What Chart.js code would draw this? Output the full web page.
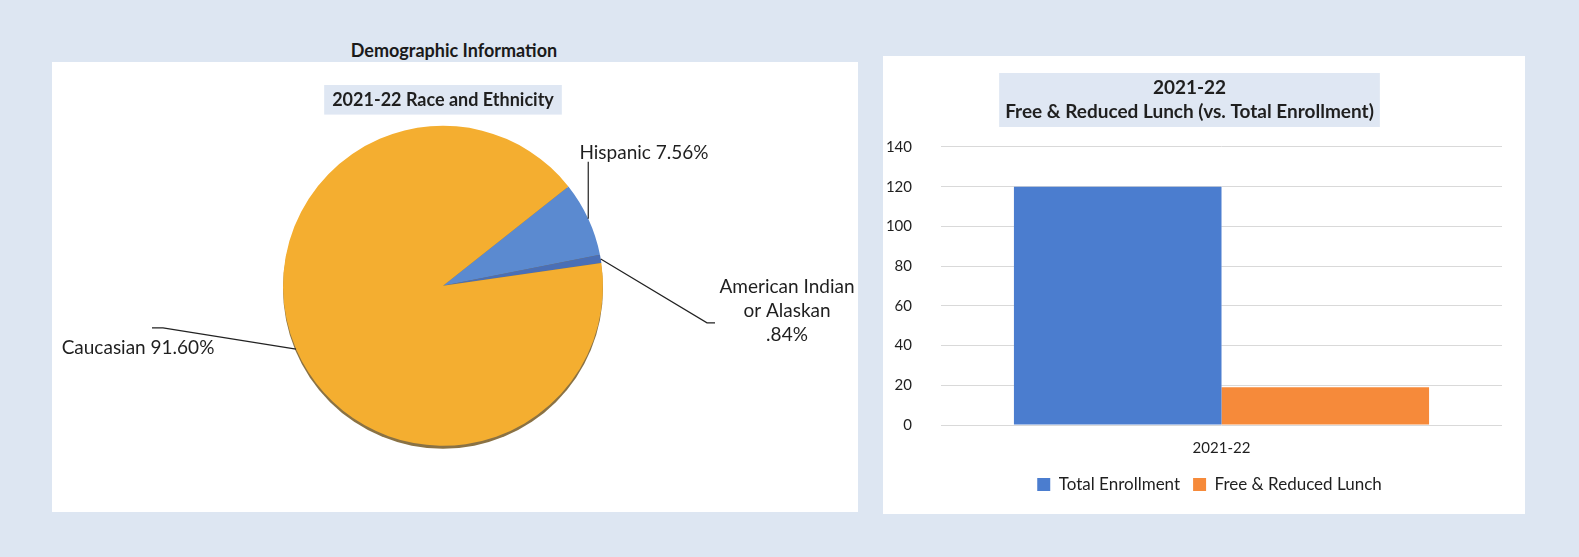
<!DOCTYPE html>
<html>
<head>
<meta charset="utf-8">
<script src="https://cdn.jsdelivr.net/npm/chart.js@4.4.0/dist/chart.umd.min.js"></script>
<style>
    body {
        margin: 0;
        width: 1579px;
        height: 557px;
        background: #dde6f2;
        font-family: Lato, sans-serif;
        position: relative;
        overflow: hidden;
    }
    .panel {
        position: absolute;
        background: #ffffff;
    }
    #pieBox { left: 52px; top: 62px; width: 806px; height: 450px; }
    #barBox { left: 883px; top: 56px; width: 642px; height: 458px; }
    #topTitle {
        position: absolute;
        left: 334px;
        width: 240px;
        top: 39px;
        text-align: center;
        font-weight: bold;
        font-size: 18px;
        line-height: 22px;
        color: #1a1a1a;
    }
</style>
</head>
<body>
<div id="topTitle">Demographic Information</div>
<div class="panel" id="pieBox"><canvas id="raceChart" width="806" height="450"></canvas></div>
<div class="panel" id="barBox"><canvas id="lunchChart" width="642" height="458"></canvas></div>

<script>
    // Race and ethnicity (percent)
    const raceLabels = ["Hispanic", "American Indian or Alaskan", "Caucasian"];
    const racePercents = [7.56, 0.84, 91.60];
    const raceLabelLines = [["Hispanic 7.56%"], ["American Indian", "or Alaskan", ".84%"], ["Caucasian 91.60%"]];
    const raceColors = ["#5b8ad0", "#4a6fb6", "#f4ae30"];

    // Free & reduced lunch vs total enrollment
    const lunchCategories = ["2021-22"];
    const totalEnrollment = [120];
    const freeReducedLunch = [19];
    const yMax = 140;
    const yStep = 20;

    const TEXT = "#1f1f1f";
    Chart.defaults.font.family = "Lato, sans-serif";
    Chart.defaults.color = TEXT;

    // light blue box behind the chart title, plus small sideways nudges
    const titleBox = {
        id: "titleBox",
        afterLayout(chart, args, opts) {
            const tb = chart.titleBlock;
            if (tb && opts.shiftX) {
                tb.left += opts.shiftX;
                tb.right += opts.shiftX;
            }
            const lg = chart.legend;
            if (lg && opts.legendShiftX) {
                lg.left += opts.legendShiftX;
                lg.right += opts.legendShiftX;
            }
        },
        beforeDraw(chart, args, opts) {
            const tb = chart.titleBlock;
            if (!tb || !opts.color) return;
            const t = chart.options.plugins.title;
            const lines = Array.isArray(t.text) ? t.text : [t.text];
            const ctx = chart.ctx;
            ctx.save();
            ctx.font = `bold ${t.font.size}px ${Chart.defaults.font.family}`;
            let w = 0;
            lines.forEach(l => { w = Math.max(w, ctx.measureText(l).width); });
            const lh = t.font.size * t.font.lineHeight;
            const cx = tb.left + tb.width / 2;
            const top = tb.top + t.padding.top - opts.padY;
            const h = lines.length * lh + opts.padY * 2;
            ctx.fillStyle = opts.color;
            ctx.fillRect(cx - w / 2 - opts.padX, top, w + opts.padX * 2, h);
            ctx.restore();
        }
    };

    // darker rim under the pie, gives the tilted look
    const pieRim = {
        id: "pieRim",
        beforeDatasetsDraw(chart) {
            const arc = chart.getDatasetMeta(0).data[0];
            if (!arc) return;
            const ctx = chart.ctx;
            ctx.save();
            ctx.fillStyle = "#8a7244";
            ctx.beginPath();
            ctx.arc(arc.x, arc.y + 3, arc.outerRadius, 0, Math.PI * 2);
            ctx.fill();
            ctx.restore();
        }
    };

    // offsets of leader elbows / label text from the pie centre
    const leaderPaths = [
        [["edge", -124]],
        [[264, 37], [272, 37]],
        [[-280, 42], [-291, 42]]
    ];
    const labelAnchors = [[201, -133], [344, 1], [-305, 62]];

    const pieLabels = {
        id: "pieLabels",
        afterDatasetsDraw(chart) {
            const arcs = chart.getDatasetMeta(0).data;
            const ctx = chart.ctx;
            ctx.save();
            ctx.strokeStyle = "#222";
            ctx.lineWidth = 1.2;
            ctx.fillStyle = TEXT;
            ctx.font = "19px Lato, sans-serif";
            ctx.textAlign = "center";
            ctx.textBaseline = "middle";
            arcs.forEach((arc, i) => {
                const mid = (arc.startAngle + arc.endAngle) / 2;
                const ex = arc.x + Math.cos(mid) * arc.outerRadius;
                const ey = arc.y + Math.sin(mid) * arc.outerRadius;
                ctx.beginPath();
                ctx.moveTo(ex, ey);
                leaderPaths[i].forEach(p => {
                    if (p[0] === "edge") ctx.lineTo(ex, arc.y + p[1]);
                    else ctx.lineTo(arc.x + p[0], arc.y + p[1]);
                });
                ctx.stroke();
                raceLabelLines[i].forEach((line, k) => {
                    ctx.fillText(line, arc.x + labelAnchors[i][0], arc.y + labelAnchors[i][1] + k * 24);
                });
            });
            ctx.restore();
        }
    };

    new Chart(document.getElementById("raceChart"), {
        type: "pie",
        data: {
            labels: raceLabels,
            datasets: [{
                data: racePercents,
                backgroundColor: raceColors,
                borderWidth: 0,
            }],
        },
        options: {
            responsive: false,
            animation: false,
            rotation: 51.6,
            layout: { padding: { left: 231, right: 255, top: 27, bottom: 66 } },
            plugins: {
                legend: { display: false },
                tooltip: { enabled: false },
                title: {
                    display: true,
                    text: "2021-22 Race and Ethnicity",
                    font: { size: 18, weight: "bold", lineHeight: 1.2 },
                    color: TEXT,
                    padding: { top: 0, bottom: 15 },
                },
                titleBox: { color: "#dfe7f3", padX: 8, padY: 4 },
            },
        },
        plugins: [titleBox, pieRim, pieLabels],
    });

    new Chart(document.getElementById("lunchChart"), {
        type: "bar",
        data: {
            labels: lunchCategories,
            datasets: [
                {
                    label: "Total Enrollment",
                    data: totalEnrollment,
                    backgroundColor: "#4b7dcf",
                },
                {
                    label: "Free & Reduced Lunch",
                    data: freeReducedLunch,
                    backgroundColor: "#f68a3a",
                },
            ],
        },
        options: {
            responsive: false,
            animation: false,
            barPercentage: 1,
            categoryPercentage: 0.74,
            layout: { padding: { left: 0, right: 23, top: 20, bottom: 11 } },
            scales: {
                x: {
                    grid: { display: false },
                    border: { display: false },
                    ticks: { font: { size: 15 }, color: TEXT, padding: 6 },
                },
                y: {
                    min: 0,
                    max: yMax,
                    ticks: { stepSize: yStep, font: { size: 15 }, color: TEXT, padding: 29 },
                    grid: { color: "#d9d9d9", drawTicks: false },
                    border: { display: false },
                    afterFit(scale) { scale.width = 58; },
                },
            },
            plugins: {
                tooltip: { enabled: false },
                title: {
                    display: true,
                    text: ["2021-22", "Free & Reduced Lunch (vs. Total Enrollment)"],
                    font: { size: 19, weight: "bold", lineHeight: 1.263 },
                    color: TEXT,
                    padding: { top: 0, bottom: 23 },
                },
                titleBox: { color: "#dfe7f3", padX: 6, padY: 3, shiftX: -3, legendShiftX: 17 },
                legend: {
                    position: "bottom",
                    labels: {
                        boxWidth: 13,
                        boxHeight: 13,
                        padding: 13,
                        font: { size: 17 },
                        color: TEXT,
                    },
                },
            },
        },
        plugins: [titleBox],
    });
</script>
</body>
</html>
